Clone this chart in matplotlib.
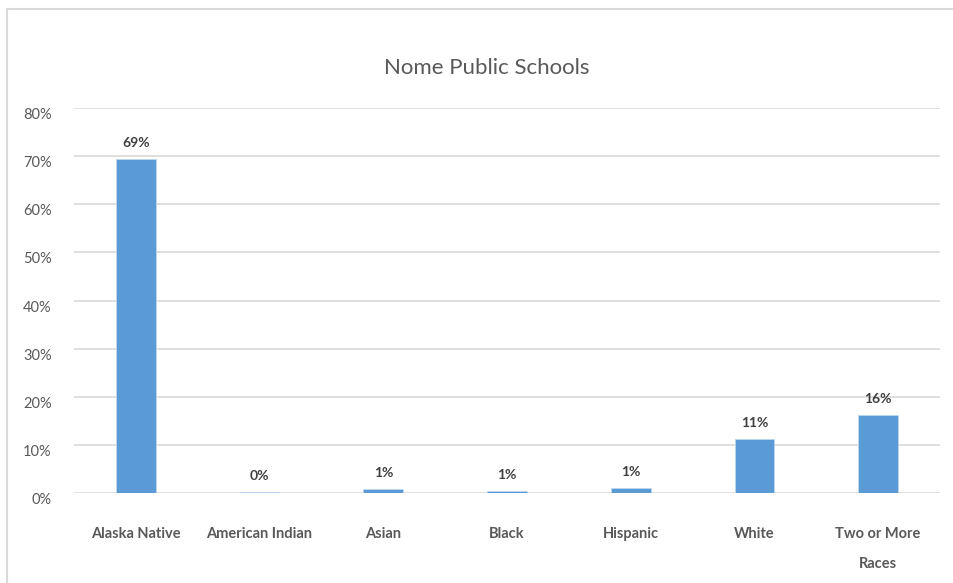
import matplotlib.pyplot as plt
from matplotlib.patches import Rectangle
from matplotlib.ticker import FuncFormatter

plt.rcParams['font.family'] = ['Lato', 'DejaVu Sans']

# Student shares by race (fraction of enrollment)
categories = ['Alaska Native', 'American Indian', 'Asian', 'Black',
              'Hispanic', 'White', 'Two or More\nRaces']
values = [0.694, 0.002, 0.009, 0.005, 0.010, 0.112, 0.162]
labels = ['69%', '0%', '1%', '1%', '1%', '11%', '16%']
yticks = [0, 0.1, 0.2, 0.3, 0.4, 0.5, 0.6, 0.7, 0.8]

text_gray = '#595959'
grid_gray = '#d9d9d9'
bar_blue = '#5b9bd5'

fig = plt.figure(figsize=(9.54, 5.83), dpi=100)

# cut-off heading above the chart box (only descenders are visible)
fig.text(105 / 954, 1 + 11 / 583, 'Demographics', fontsize=24,
         color='black', va='baseline', ha='left')

# chart frame
fig.patches.append(Rectangle((7 / 954, -0.05), 1.0, (583 - 9) / 583 + 0.05,
                             transform=fig.transFigure, fill=False,
                             edgecolor=grid_gray, linewidth=1.5))

ax = fig.add_axes([74 / 954, 1 - 493 / 583, (940 - 74) / 954, (493 - 108) / 583])

x = range(len(categories))
ax.bar(x, values, width=0.32, color=bar_blue, edgecolor='#bdd7ee',
       linewidth=0.6, zorder=3)

for xi, v, lab in zip(x, values, labels):
    ax.annotate(lab, (xi, v), xytext=(0, 7), textcoords='offset points',
                ha='center', va='bottom', fontsize=10, fontweight='bold',
                color='#404040')

ax.set_xlim(-0.5, len(categories) - 0.5)
ax.set_ylim(0, 0.8)
ax.set_yticks(yticks)
ax.yaxis.set_major_formatter(FuncFormatter(lambda v, p: f'{v:.0%}'))
ax.set_xticks(list(x))
ax.set_xticklabels(categories, fontweight='bold', linespacing=2.45,
                   va='top')
ax.tick_params(axis='x', length=0, pad=24.5, labelsize=10.5, labelcolor=text_gray)
ax.tick_params(axis='y', length=0, pad=16, labelsize=10.5, labelcolor=text_gray)
for lab in ax.get_yticklabels():
    lab.set_verticalalignment('top')

ax.grid(axis='y', color=grid_gray, linewidth=1.2, zorder=0)
for s in ax.spines.values():
    s.set_visible(False)

fig.text(487 / 954, 1 - 68 / 583, 'Nome Public Schools', fontsize=16,
         color=text_gray, ha='center', va='center')

fig.savefig('out.png', dpi=100)
